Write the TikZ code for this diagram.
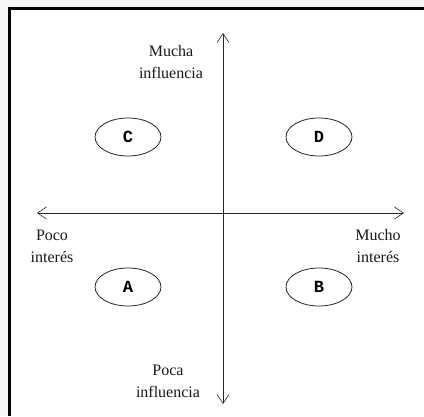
\documentclass[tikz,border=0pt]{standalone}
\usepackage{fontspec}
\setmainfont{Liberation Serif}
\newfontfamily\letrafont{Liberation Mono}
\usetikzlibrary{shapes.geometric, positioning}
\usetikzlibrary{arrows.meta}

\begin{document}
\begin{tikzpicture}[x=1pt,y=1pt,>={Straight Barb[length=9pt,width=12pt]},
                    semithick, node distance=191pt]
  \tikzstyle{cuadrante}=[ellipse,draw=black!85,thick,minimum width=66pt,minimum height=38pt,
                         inner sep=0pt,font=\letrafont\bfseries\fontsize{17}{17}\selectfont]
  \tikzstyle{etiqueta}=[align=center,font=\fontsize{16}{22}\selectfont,text=black!90]

  \useasboundingbox (0,0) rectangle (424,416);
  \fill[black!3] (0,0) rectangle (424,416);
  \fill[white] (8,0) rectangle (424,409);
  \draw[line width=3pt] (9.5,0) |- (430,407);

  % ejes
  \coordinate (arriba) at (223,383);
  \coordinate (abajo)  at (223,12);
  \coordinate (izq)    at (37,203);
  \coordinate (der)    at (404,203);
  \draw[<->,black!85] (izq) -- (der);
  \draw[<->,black!85] (arriba) -- (abajo);

  \node[cuadrante] (C) at (128,279) {C};
  \node[cuadrante] (D) [right of=C]  {D};
  \node[cuadrante] (A) [below of=C, node distance=150pt] {A};
  \node[cuadrante] (B) [right of=A]  {B};

  \node[etiqueta] (mucha) at (171,354) {Mucha\\influencia};
  \node[etiqueta] (poca)  at (168,35)  {Poca\\influencia};
  \node[etiqueta] (poco)  at (52,170)  {Poco\\interés};
  \node[etiqueta] (mucho) at (378,170) {Mucho\\interés};
\end{tikzpicture}
\end{document}
